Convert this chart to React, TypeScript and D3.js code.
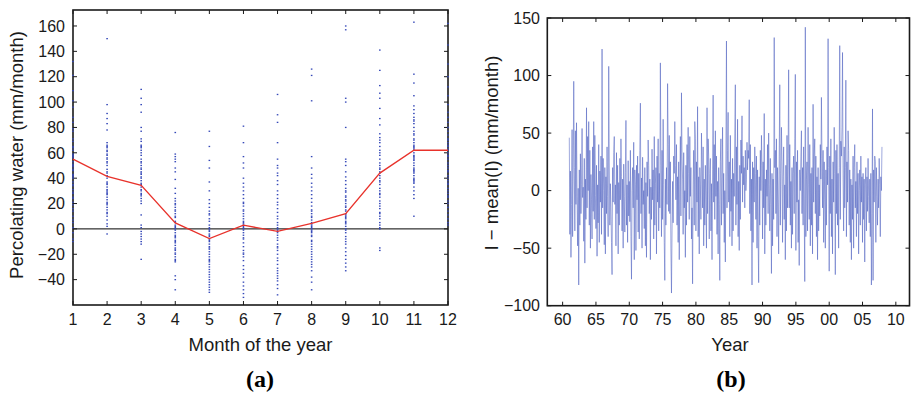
import React from "react";
import * as d3 from "d3";

// ---- panel (a): percolating water by month ----
const months = [1, 2, 3, 4, 5, 6, 7, 8, 9, 10, 11, 12];
const monthMean = [55, 41.5, 34.3, 4.7, -7.6, 2.9, -2, 4.4, 12, 44, 62, 62];

const jan = [132, 121, 109, 101, 96, 88, 84, 79, 77, 71, 69, 64, 62, 59, 57, 56, 53, 51, 50, 47, 46, 43, 41, 40, 37, 35, 34, 31, 29, 28, 25, 24, 21, 19, 16, 14, 10, 7, 5, 1, -3, -8, -10, 65, 58, 49, 42];
const feb = [150, 98, 91, 87, 83, 78, 68, 66, 64, 62, 59, 58, 55, 53, 47, 45, 42, 40, 37, 35, 33, 31, 29, 27, 25, 23, 21, 19, 17, 15, 13, 10, 7, 4, 2, -4, 50, 44, 36, 28, 20, 52, 56, 61, 12, 65, 30];
const mar = [110, 103, 98, 92, 80, 77, 69, 66, 64, 62, 58, 55, 52, 50, 48, 45, 43, 40, 38, 35, 33, 30, 28, 26, 24, 22, 20, 11, 3, 1, -2, -4, -6, -8, -10, -12, -24, 36, 41, 47, 53, 31, 27, 60, 65, 71, 44];
const apr = [76, 59, 57, 55, 53, 48, 45, 39, 32, 24, 22, 20, 19, 17, 15, 14, 12, 9, 6, 3, 1, -1, -3, -5, -7, -9, -11, -13, -15, -17, -19, -20, -22, -24, -25, -26, -37, -40, -48, 5, 10, -6, 2, -10, 28, 0, -16];
const may = [77, 65, 54, 48, 37, 30, 23, 20, 17, 14, 11, 8, 6, 3, 1, -2, -4, -6, -8, -10, -12, -14, -16, -18, -20, -22, -24, -26, -28, -30, -32, -34, -36, -38, -40, -42, -44, -46, -48, -50, -5, -9, 0, -15, -25, 12, -1];
const jun = [81, 68, 57, 52, 48, 36, 33, 30, 27, 24, 21, 18, 15, 12, 10, 8, 5, 3, 1, -1, -5, -8, -11, -14, -17, -19, -22, -25, -29, -32, -35, -38, -42, -45, -48, -51, -54, 0, 4, -3, 20, 40, -7, 6, 14, -20, 2];
const jul = [106, 90, 84, 68, 55, 50, 48, 44, 42, 38, 35, 30, 27, 24, 21, 19, 16, 13, 10, 3, 1, -1, -3, -5, -7, -9, -12, -14, -17, -20, -23, -25, -28, -31, -33, -35, -37, -39, -41, -44, -47, -52, 5, -2, 8, 0, -15];
const aug = [126, 121, 101, 57, 48, 43, 40, 36, 33, 24, 21, 18, 15, 12, 9, 7, 5, 3, 1, -1, -3, -6, -9, -12, -14, -16, -18, -20, -22, -24, -26, -28, -30, -33, -38, -42, -48, 2, 10, 27, 30, -5, -10, 0, 14, 4, -2];
const sep = [160, 157, 103, 100, 80, 55, 53, 50, 41, 38, 35, 32, 29, 26, 23, 20, 17, 14, 12, 10, 8, 6, 4, 2, 0, -3, -6, -8, -10, -12, -15, -18, -21, -24, -27, -30, -33, 45, 15, 25, 5, -1, 30, 18, 22, 9, 11];
const oct = [141, 125, 113, 107, 103, 95, 87, 82, 75, 72, 68, 65, 62, 58, 55, 52, 50, 47, 45, 42, 40, 37, 35, 32, 30, 27, 25, 22, 20, 18, 16, 13, 10, 8, 5, 3, 1, 0, -15, -17, 60, 48, 38, 28, 12, 70, 44];
const nov = [163, 122, 115, 105, 97, 94, 91, 86, 83, 80, 77, 74, 71, 68, 66, 64, 62, 60, 58, 56, 54, 52, 50, 48, 46, 44, 42, 40, 38, 36, 30, 27, 24, 10, 85, 75, 65, 57, 47, 37, 33, 70, 63, 55, 45, 88, 39];
const dec = [162, 145, 130, 120, 112, 105, 98, 92, 88, 84, 80, 77, 74, 71, 68, 65, 62, 60, 58, 55, 52, 50, 48, 45, 42, 40, 38, 35, 32, 30, 28, 25, 22, 20, 17, 14, 11, 8, 5, 3, 70, 63, 57, 46, 36, 26, 66];
const byMonth = [jan, feb, mar, apr, may, jun, jul, aug, sep, oct, nov, dec];

// ---- panel (b): I - mean(I), monthly 1961..2007 ----
const firstYear = 1961;
const anomaly = [
  [46, -38, 17, -58, -12, 53, -40, 18, 95, 20, -35, 52],
  [-12, 59, -5, -48, 2, -82, 18, -30, 32, -20, 5, 54],
  [-6, 3, -44, 28, -63, 10, -25, 72, -15, 47, 0, 60],
  [-30, 35, -50, 14, -8, -42, 38, -18, 60, -25, 48, -4],
  [-33, 22, -57, 5, -28, 40, -45, 17, -10, 30, -38, 123],
  [-15, 28, 0, -47, 20, -55, 12, -20, 38, -5, -40, 108],
  [24, -30, 6, -15, -45, -73, 20, -10, 33, 47, -12, 5],
  [-48, 33, -20, 22, -55, 7, -30, 28, -8, 45, 12, -35],
  [10, -50, 23, -5, -36, 16, 61, -30, 5, -45, 26, -22],
  [8, -27, 35, -40, -77, 0, 20, -15, 42, -60, 18, 5],
  [-52, 22, -8, 30, -36, 15, -42, 35, 76, -20, 11, -50],
  [29, -12, 0, -33, 20, -48, 7, -58, 25, -5, 44, 22],
  [-20, 10, -60, 3, -25, 36, -8, 18, -42, 47, -30, 6],
  [20, -55, 30, -10, 45, -35, 15, -15, 111, 22, -40, 35],
  [-25, 62, 5, -45, -78, 10, -30, 20, -12, 93, 40, -18],
  [48, -20, 25, -50, -89, -35, 8, -28, 30, 15, 60, 22],
  [-8, 40, -30, 12, -45, 25, -60, 5, 47, -22, 85, 30],
  [10, -38, 33, -15, 0, -58, 22, -30, 40, -10, 55, 15],
  [-25, 47, -5, 20, -42, -15, -81, 5, 35, -30, 60, 45],
  [-35, 25, -10, 73, -40, 12, -55, 20, 5, -25, 50, 18],
  [-15, 38, -48, 10, -30, 22, -8, -50, 72, -20, 45, 30],
  [-42, 15, 28, -35, 6, -60, 18, 83, -10, 40, -25, 52],
  [-5, 30, -38, 8, -55, 20, -12, -78, 25, 45, -30, 10],
  [55, -20, 15, -45, 0, -62, 30, 130, -15, 35, 68, -10],
  [25, -40, 48, -18, 10, -48, 28, -35, 15, -5, 50, 92],
  [-30, 38, -12, 62, -40, 8, -52, 22, -25, 44, 15, 65],
  [-10, 30, 5, 20, -15, 35, 0, 10, 42, 18, 35, 28],
  [79, -20, 40, -35, 10, -82, 25, -45, 20, -10, 38, 15],
  [-25, 30, -50, 18, -40, -80, 12, -30, 35, 0, 48, 22],
  [-42, 25, -15, 67, -55, 10, -30, 18, -5, 40, -20, 50],
  [5, -35, 28, -12, -72, 15, -48, 10, -25, 133, 20, 35],
  [-20, 45, -40, 20, -10, -55, 30, 92, -30, 15, 55, 25],
  [-45, 12, 38, -25, 5, -60, 22, -35, 48, -15, 28, 105],
  [-15, 40, -30, 8, -50, 20, -38, 15, 30, -20, 45, 101],
  [-52, 25, -10, 35, -45, -8, -65, 18, 0, 30, 52, -20],
  [20, -30, 38, -15, -79, 142, -40, 10, 25, -35, 55, 5],
  [-25, 40, -48, 15, -30, 20, -55, 75, -10, 30, 45, -20],
  [30, -40, 12, -60, 20, -35, 5, -22, 40, 10, 81, 28],
  [-15, 35, -45, 25, -8, -50, 18, -30, 38, 5, 132, 20],
  [-70, 30, -20, 45, -40, 10, -55, 25, -10, 55, 15, -73],
  [35, -20, 40, -30, 15, -50, 20, 126, -25, 43, 30, 55],
  [120, 10, -35, 38, -15, 20, 96, -40, 25, -10, 52, 35],
  [-30, 18, -45, 10, -60, 5, -25, 30, -50, 20, 40, -15],
  [8, -40, 25, -20, 15, -55, 0, 18, -30, 30, -10, 12],
  [-45, 15, -25, 10, -62, 5, 20, -35, 12, -18, 28, -5],
  [-28, 10, -40, 15, -82, -20, 71, -78, 18, -10, 30, 25],
  [-45, 20, -5, -30, 10, -15, 28, 5, -40, 12, 0, 38],
];

const yTicksA = [-40, -20, 0, 20, 40, 60, 80, 100, 120, 140, 160];
const yTicksB = [-100, -50, 0, 50, 100, 150];
const xTicksB = [1960, 1965, 1970, 1975, 1980, 1985, 1990, 1995, 2000, 2005, 2010];

const FONT = "'Liberation Sans', Arial, Helvetica, sans-serif";
const INK = "#1a1a1a";
const TICK = 4;

function Frame({ x0, x1, y0, y1 }: { x0: number; x1: number; y0: number; y1: number }) {
  return <rect x={x0} y={y0} width={x1 - x0} height={y1 - y0} fill="none" stroke={INK} strokeWidth={1.6} />;
}

export default function App() {
  // panel a scales
  const xA = d3.scaleLinear().domain([1, 12]).range([73, 448]);
  const yA = d3.scaleLinear().domain([-60, 172.6]).range([305, 10]);
  // panel b scales
  const xB = d3.scaleLinear().domain([1957.7, 2012.05]).range([547.3, 909.5]);
  const yB = d3.scaleLinear().domain([-100, 150]).range([305.7, 18]);

  const redLine = d3.line<number>().x((_, i) => xA(months[i])).y((d) => yA(d));

  const series = anomaly.flat().map((v, i) => ({ t: firstYear + i / 12, v }));
  const bLine = d3.line<{ t: number; v: number }>().x((d) => xB(d.t)).y((d) => yB(d.v));

  const [ax0, ax1] = xA.range();
  const [aBot, aTop] = yA.range();
  const [bx0, bx1] = xB.range();
  const [bBot, bTop] = yB.range();

  return (
    <svg width={911} height={393} style={{ position: "absolute", left: 0, top: 0, background: "#fff" }} fontFamily={FONT}>
      {/* ---------- (a) ---------- */}
      <g>
        <line x1={ax0} x2={ax1} y1={yA(0)} y2={yA(0)} stroke="#000" strokeWidth={1} />
        {months.map((m) => (
          <g key={`xa${m}`}>
            <line x1={xA(m)} x2={xA(m)} y1={aBot} y2={aBot - TICK} stroke={INK} />
            <line x1={xA(m)} x2={xA(m)} y1={aTop} y2={aTop + TICK} stroke={INK} />
            <text x={xA(m)} y={325} textAnchor="middle" fontSize={16} fill={INK}>{m}</text>
          </g>
        ))}
        {yTicksA.map((t) => (
          <g key={`ya${t}`}>
            <line x1={ax0} x2={ax0 + TICK} y1={yA(t)} y2={yA(t)} stroke={INK} />
            <line x1={ax1} x2={ax1 - TICK} y1={yA(t)} y2={yA(t)} stroke={INK} />
            <text x={65} y={yA(t)} dy="0.36em" textAnchor="end" fontSize={16} fill={INK}>{t < 0 ? `\u2212${-t}` : t}</text>
          </g>
        ))}
        <Frame x0={ax0} x1={ax1} y0={aTop} y1={aBot} />
        {byMonth.map((vals, mi) =>
          vals.map((v, j) => (
            <rect key={`d${mi}-${j}`} x={xA(months[mi]) - 0.8} y={yA(v) - 0.65} width={1.6} height={1.3} fill="#3548b8" />
          ))
        )}
        <path d={redLine(monthMean) || ""} fill="none" stroke="#e8322b" strokeWidth={1.3} />
        <text x={260.5} y={351} textAnchor="middle" fontSize={18.5} fill={INK}>Month of the year</text>
        <text transform={`translate(23,155) rotate(-90)`} textAnchor="middle" fontSize={18.5} fill={INK}>Percolating water (mm/month)</text>
        <text x={260} y={387} textAnchor="middle" fontSize={24} fontWeight="bold" fontFamily="'Liberation Serif', 'Times New Roman', serif" fill="#000">(a)</text>
      </g>

      {/* ---------- (b) ---------- */}
      <g>
        <path d={bLine(series) || ""} fill="none" stroke="#4f62c0" strokeWidth={0.55} />
        {xTicksB.map((t) => (
          <g key={`xb${t}`}>
            <line x1={xB(t)} x2={xB(t)} y1={bBot} y2={bBot - TICK} stroke={INK} />
            <line x1={xB(t)} x2={xB(t)} y1={bTop} y2={bTop + TICK} stroke={INK} />
            <text x={xB(t)} y={325} textAnchor="middle" fontSize={16} fill={INK}>{String(t % 100).padStart(2, "0")}</text>
          </g>
        ))}
        {yTicksB.map((t) => (
          <g key={`yb${t}`}>
            <line x1={bx0} x2={bx0 + TICK} y1={yB(t)} y2={yB(t)} stroke={INK} />
            <line x1={bx1} x2={bx1 - TICK} y1={yB(t)} y2={yB(t)} stroke={INK} />
            <text x={540} y={yB(t)} dy="0.36em" textAnchor="end" fontSize={16} fill={INK}>{t < 0 ? `\u2212${-t}` : t}</text>
          </g>
        ))}
        <Frame x0={bx0} x1={bx1} y0={bTop} y1={bBot} />
        <text x={730} y={351} textAnchor="middle" fontSize={18.5} fill={INK}>Year</text>
        <text transform={`translate(498,153) rotate(-90)`} textAnchor="middle" fontSize={18.5} fill={INK}>I {"\u2212"} mean(I) (mm/month)</text>
        <text x={731} y={387} textAnchor="middle" fontSize={24} fontWeight="bold" fontFamily="'Liberation Serif', 'Times New Roman', serif" fill="#000">(b)</text>
      </g>
    </svg>
  );
}
